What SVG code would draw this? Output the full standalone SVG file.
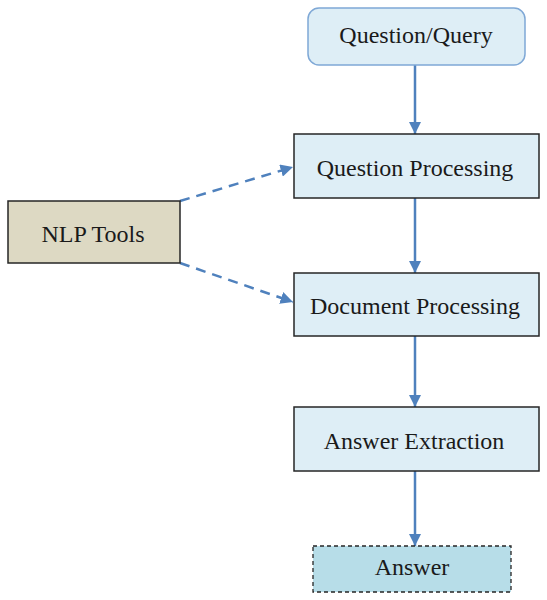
<svg xmlns="http://www.w3.org/2000/svg" width="547" height="600" viewBox="0 0 547 600">
<style>
.box{fill:#DEEEF6;stroke:#262626;stroke-width:1.5}
.lbl{font-family:"Liberation Serif","Times New Roman",serif;font-size:24px;fill:#1a1a1a;text-anchor:middle;dominant-baseline:central}
.ln{stroke:#4F81BD;stroke-width:2.5;fill:none}
.dash{stroke-dasharray:10,7}
</style>
<defs>
<marker id="ah" viewBox="0 0 10 10" refX="10" refY="5" markerWidth="5" markerHeight="5" orient="auto" markerUnits="strokeWidth">
<path d="M0,0 L10,5 L0,10 z" fill="#4F81BD"/>
</marker>
</defs>
<rect width="547" height="600" fill="#fff"/>
<g id="connectors">
<line class="ln" x1="415" y1="65" x2="415" y2="134" marker-end="url(#ah)"/>
<line class="ln" x1="415" y1="198" x2="415" y2="273" marker-end="url(#ah)"/>
<line class="ln" x1="415" y1="336" x2="415" y2="407" marker-end="url(#ah)"/>
<line class="ln" x1="415" y1="471" x2="415" y2="546" marker-end="url(#ah)"/>
<line class="ln dash" x1="180" y1="201" x2="293" y2="167" marker-end="url(#ah)"/>
<line class="ln dash" x1="180" y1="263" x2="293" y2="302" marker-end="url(#ah)"/>
</g>
<g id="question-query">
<rect x="308" y="8" width="217" height="57" rx="11" fill="#DEEEF6" stroke="#7FA8D6" stroke-width="1.5"/>
<text class="lbl" x="416" y="35">Question/Query</text>
</g>
<g id="question-processing">
<rect class="box" x="294" y="134" width="245" height="64"/>
<text class="lbl" x="415" y="168">Question Processing</text>
</g>
<g id="nlp-tools">
<rect x="8" y="201" width="172" height="62" fill="#DDD9C3" stroke="#262626" stroke-width="1.5"/>
<text class="lbl" x="93" y="234">NLP Tools</text>
</g>
<g id="document-processing">
<rect class="box" x="294" y="273" width="245" height="63"/>
<text class="lbl" x="415" y="306">Document Processing</text>
</g>
<g id="answer-extraction">
<rect class="box" x="294" y="407" width="245" height="64"/>
<text class="lbl" x="414" y="441">Answer Extraction</text>
</g>
<g id="answer">
<rect x="313" y="546" width="198" height="46" fill="#B7DDE8" stroke="#262626" stroke-width="1.3" stroke-dasharray="4,3"/>
<text class="lbl" x="412" y="567">Answer</text>
</g>
</svg>
